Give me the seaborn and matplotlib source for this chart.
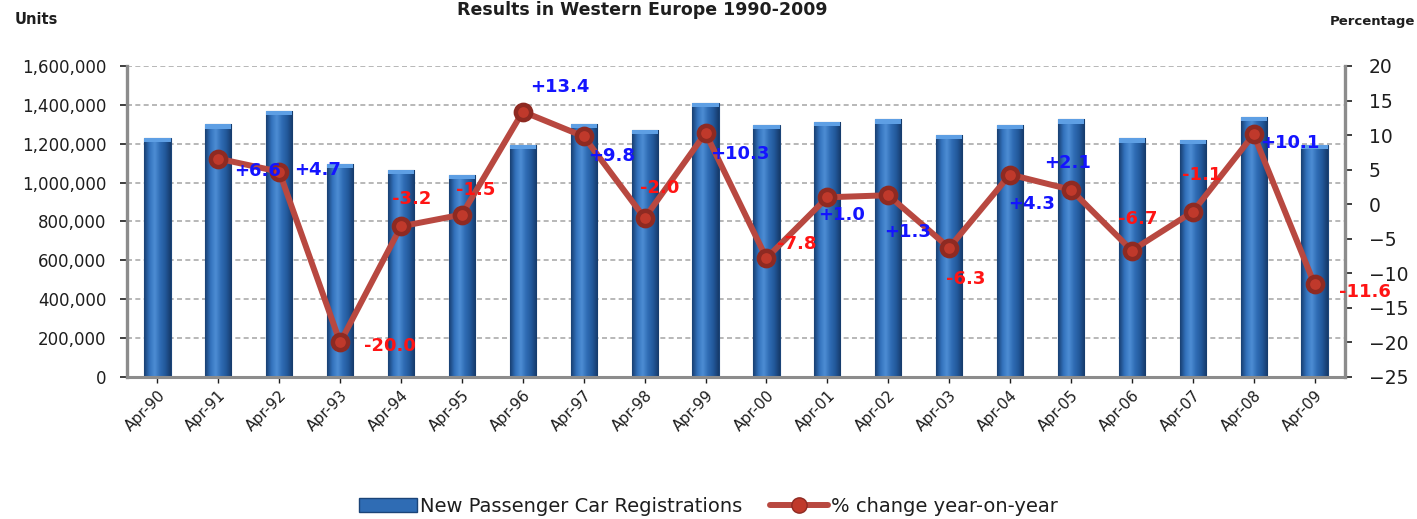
import numpy as np
import pandas as pd
import matplotlib
matplotlib.use("Agg")
import matplotlib.pyplot as plt
import seaborn as sns
from matplotlib.ticker import FuncFormatter, MultipleLocator
from matplotlib.lines import Line2D
from matplotlib.patches import Patch
from matplotlib.colors import LinearSegmentedColormap

# ----------------------------------------------------------------------
# Data
# ----------------------------------------------------------------------
MONTHS = ['Apr-90', 'Apr-91', 'Apr-92', 'Apr-93', 'Apr-94', 'Apr-95', 'Apr-96',
          'Apr-97', 'Apr-98', 'Apr-99', 'Apr-00', 'Apr-01', 'Apr-02', 'Apr-03',
          'Apr-04', 'Apr-05', 'Apr-06', 'Apr-07', 'Apr-08', 'Apr-09']

REGISTRATIONS = [1230000, 1300000, 1370000, 1096000, 1066000, 1040000, 1193000,
                 1301000, 1272000, 1411000, 1297000, 1313000, 1325000, 1245000,
                 1297000, 1325000, 1228000, 1219000, 1339000, 1193000]

PCT_CHANGE = [np.nan, 6.6, 4.7, -20.0, -3.2, -1.5, 13.4, 9.8, -2.0, 10.3, -7.8,
              1.0, 1.3, -6.3, 4.3, 2.1, -6.7, -1.1, 10.1, -11.6]

# label offsets from the marker, in pixels (dx, dy downwards)
LABEL_OFFSETS = [None, (39, 12), (38, -2), (50, 4), (11, -27), (14, -25),
                 (37, -25), (28, 20), (15, -30), (34, 21), (30, -14), (14, 18),
                 (19, 37), (17, 31), (22, 29), (-3, -27), (6, -32), (9, -37),
                 (36, 9), (50, 8)]

BAR_COLOR = '#2f6cb4'
BAR_EDGE = '#1b4478'
LINE_COLOR = '#b84840'
MARKER_COLOR = '#c0392b'
TEXT_COLOR = '#1e1e1e'

# ----------------------------------------------------------------------
# Plot
# ----------------------------------------------------------------------
sns.set_theme(style='white')
plt.rcParams['font.family'] = ['DejaVu Sans']

df = pd.DataFrame({'month': MONTHS, 'units': REGISTRATIONS, 'pct': PCT_CHANGE})

W, H, DPI = 1417, 519, 100
fig = plt.figure(figsize=(W / DPI, H / DPI), dpi=DPI)
ax = fig.add_axes([127 / W, 1 - 377 / H, (1345 - 127) / W, (377 - 66) / H])

sns.barplot(data=df, x='month', y='units', order=MONTHS, color=BAR_COLOR,
            width=0.43, edgecolor=BAR_EDGE, linewidth=0.8, saturation=1, ax=ax)

ax.set_ylim(0, 1600000)
ax.set_xlim(-0.5, len(MONTHS) - 0.5)

# cylinder-like shading on the bars
shade = LinearSegmentedColormap.from_list(
    'bar', ['#183f72', '#3372bd', '#4d8dd4', '#2f6cb4', '#22589a', '#163a6a'])
grad = np.linspace(0, 1, 64).reshape(1, -1)
for bar in ax.patches:
    x0, y0 = bar.get_x(), bar.get_y()
    w, h = bar.get_width(), bar.get_height()
    im = ax.imshow(grad, cmap=shade, aspect='auto', extent=(x0, x0 + w, y0, y0 + h),
                   zorder=bar.get_zorder() + 0.1, interpolation='bicubic')
    im.set_clip_path(bar)
    ax.fill_between([x0, x0 + w], y0 + h - 22000, y0 + h, color='#5e9fe4',
                    zorder=bar.get_zorder() + 0.2, linewidth=0)
ax.set_ylim(0, 1600000)
ax.set_xlim(-0.5, len(MONTHS) - 0.5)

ax.yaxis.set_major_locator(MultipleLocator(200000))
ax.yaxis.set_major_formatter(FuncFormatter(lambda v, p: f'{int(v):,}'))
ax.set_xlabel('')
ax.set_ylabel('')
ax.grid(axis='y', color='#acacac', linestyle=(0, (3, 2)), linewidth=1.2)
ax.set_axisbelow(True)
ax.tick_params(axis='y', labelsize=12, colors=TEXT_COLOR, length=5, width=1.2,
               direction='out', left=True, pad=10)
ax.tick_params(axis='x', labelsize=11, colors=TEXT_COLOR, length=4, width=1.0,
               bottom=True)
ax.set_xticks(np.arange(len(MONTHS)))
ax.set_xticklabels(MONTHS, rotation=45, ha='right', rotation_mode='anchor')
for s in ['top', 'right']:
    ax.spines[s].set_visible(False)
ax.spines['left'].set_color('#8c8c8c')
ax.spines['left'].set_linewidth(2.4)
ax.spines['bottom'].set_color('#8c8c8c')
ax.spines['bottom'].set_linewidth(2.2)

# secondary axis with the % change line
ax2 = ax.twinx()
sns.pointplot(data=df, x='month', y='pct', order=MONTHS, color=LINE_COLOR,
              markers='o', linewidth=4.3, markersize=11,
              markerfacecolor=MARKER_COLOR, markeredgecolor='#8e2a22',
              ax=ax2)
ax2.set_ylim(-25, 20)
ax2.yaxis.set_major_locator(MultipleLocator(5))
ax2.set_ylabel('')
ax2.set_xlabel('')
ax2.set_xlim(-0.5, len(MONTHS) - 0.5)
ax2.grid(False)
ax2.tick_params(axis='y', labelsize=13.5, colors=TEXT_COLOR, length=5, width=1.2,
                direction='out', right=True, pad=12)
for s in ['top', 'left', 'bottom']:
    ax2.spines[s].set_visible(False)
ax2.spines['right'].set_color('#8c8c8c')
ax2.spines['right'].set_linewidth(2.4)

# data labels
for i, (val, off) in enumerate(zip(PCT_CHANGE, LABEL_OFFSETS)):
    if off is None or np.isnan(val):
        continue
    txt = f'{val:+.1f}'
    ax2.annotate(txt, xy=(i, val), xytext=(off[0] * 0.72, -off[1] * 0.72),
                 textcoords='offset points', ha='center', va='center',
                 fontsize=13, fontweight='bold',
                 color='#1414ff' if val > 0 else '#ff1414')

# texts
fig.text(0.453, 1 - 1 / H, 'Results in Western Europe 1990-2009', ha='center',
         va='top', fontsize=12.5, fontweight='bold', color=TEXT_COLOR)
fig.text(15 / W, 1 - 19 / H, 'Units', ha='left', va='center', fontsize=10.5,
         fontweight='bold', color=TEXT_COLOR)
fig.text(1415 / W, 1 - 22 / H, 'Percentage', ha='right', va='center',
         fontsize=9.5, fontweight='bold', color=TEXT_COLOR)

handles = [Patch(facecolor=BAR_COLOR, edgecolor=BAR_EDGE),
           Line2D([0], [0], color=LINE_COLOR, linewidth=4.3, marker='o',
                  markersize=11, markerfacecolor=MARKER_COLOR,
                  markeredgecolor='#8e2a22')]
fig.legend(handles, ['New Passenger Car Registrations', '% change year-on-year'],
           loc='center', bbox_to_anchor=(0.5, 1 - 506 / H), ncol=2, frameon=False,
           fontsize=14, handlelength=3.0, handletextpad=0.15, columnspacing=1.4,
           labelcolor=TEXT_COLOR)

fig.savefig('out.png', dpi=DPI)
